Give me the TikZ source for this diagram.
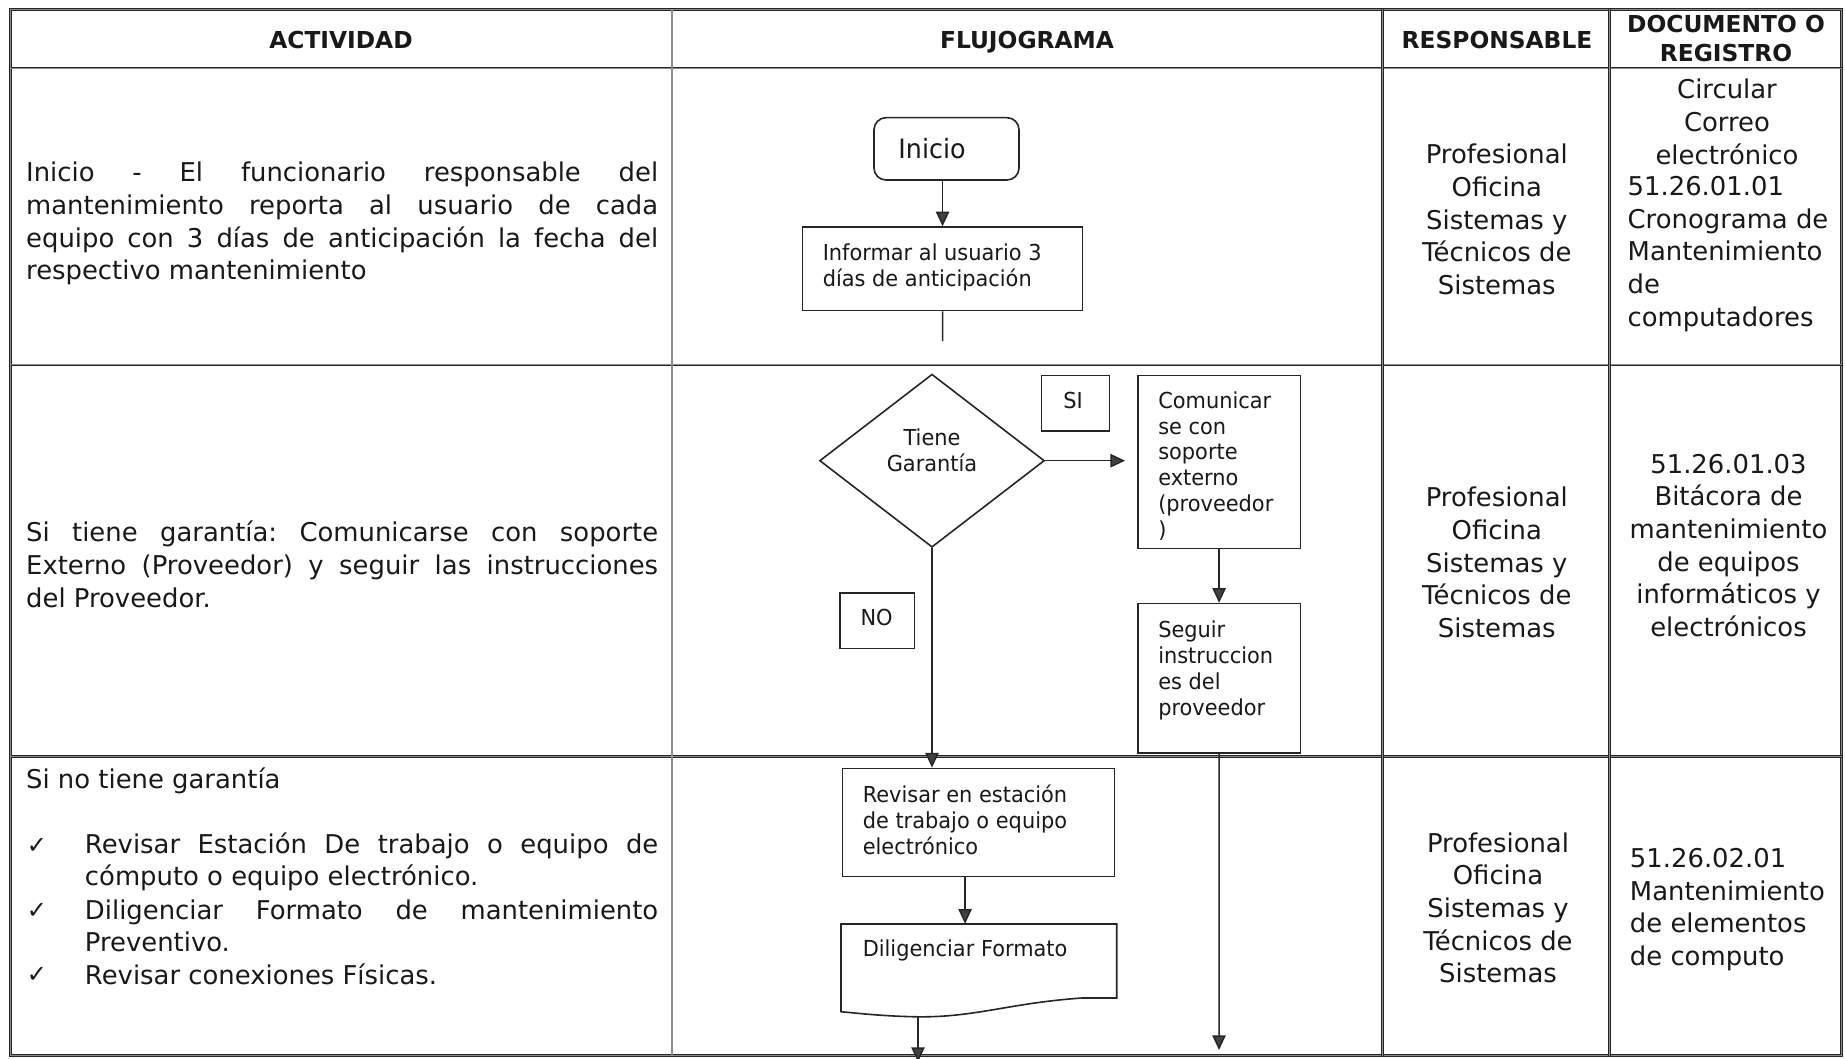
\documentclass[tikz,border=0pt]{standalone}
\usepackage{fontspec}
\setmainfont{DejaVu Sans}
\newfontfamily\flowfont[FakeStretch=0.95]{DejaVu Sans}
\usetikzlibrary{shapes.geometric,arrows.meta,fit,calc}
\frenchspacing
\begin{document}
\begin{tikzpicture}[x=0.75pt,y=-0.75pt,
  tbl/.style={draw=black!85, double=black!45, double distance=0.9pt, line width=0.5pt},
  box/.style={draw=black!85, line width=1.2pt, inner sep=0pt},
  flow/.style={draw=black!85, line width=1.1pt, -{Triangle[length=11pt,width=10pt,fill=black!75]}},
  plain/.style={draw=black!85, line width=1.1pt},
  body/.style={font=\fontsize{19.4}{24.5}\selectfont, inner sep=0pt, text=black!90},
  ftext/.style={font=\flowfont\fontsize{16.5}{19.4}\selectfont, inner sep=0pt, align=left, text=black!90},
  head/.style={font=\bfseries\fontsize{17.5}{22}\selectfont, inner sep=0pt, align=center, text=black!90},
  chk/.style={font=\fontsize{18}{20}\selectfont, inner sep=0pt, text=black!90}
]
\useasboundingbox[fill=white] (0,0) rectangle (1845,1059);

% ---------------- table ----------------
\draw[tbl] (10.6,9.4) rectangle (1841.5,1055.5);
\draw[tbl] (10.6,68.2) -- (1841.5,68.2);
\draw[tbl] (10.6,364.8) -- (1841.5,364.8);
\draw[tbl] (10.6,756.6) -- (1841.5,756.6);
\draw[tbl] (672,9.4) -- (672,1055.5);
\draw[tbl] (1382.6,9.4) -- (1382.6,1055.5);
\draw[tbl] (1609.7,9.4) -- (1609.7,1055.5);

% ---------------- header ----------------
\node[head, anchor=base] (hact) at (341,48.5) {ACTIVIDAD};
\node[head, anchor=base] (hflu) at (1027,48.5) {FLUJOGRAMA};
\node[head, anchor=base] (hres) at (1497,48.5) {RESPONSABLE};
\node[head] (hdoc) at (1726,38.3) {DOCUMENTO O\\REGISTRO};

% ---------------- actividad ----------------
\node[body, anchor=west, text width=474pt, align=justify] (act1) at (25.9,223.8)
 {Inicio - El funcionario responsable del\linebreak mantenimiento reporta al usuario de cada\linebreak equipo con 3 días de anticipación la fecha del\linebreak respectivo mantenimiento};
\node[body, anchor=west, text width=474pt, align=justify] (act2) at (25.9,564.3)
 {Si tiene garantía: Comunicarse con soporte\linebreak Externo (Proveedor) y seguir las instrucciones\linebreak del Proveedor.};
\node[body, anchor=west] (act3) at (25.9,781) {Si no tiene garantía};
\node[chk] (c1) at (37,846) {✓};
\node[chk] (c2) at (37,910.6) {✓};
\node[chk] (c3) at (37,975.3) {✓};
\node[body, anchor=west, text width=430pt, align=justify] (b1) at (84.7,862)
 {Revisar Estación De trabajo o equipo de\linebreak cómputo o equipo electrónico.};
\node[body, anchor=west, text width=430pt, align=justify] (b2) at (84.7,926)
 {Diligenciar Formato de mantenimiento\linebreak Preventivo.};
\node[body, anchor=west] (b3) at (84.7,974.3) {Revisar conexiones Físicas.};

% ---------------- responsable ----------------
\node[body, align=center] (res1) at (1496.8,219.5) {Profesional\\Oficina\\Sistemas y\\Técnicos de\\Sistemas};
\node[body, align=center] (res2) at (1496.8,562.5) {Profesional\\Oficina\\Sistemas y\\Técnicos de\\Sistemas};
\node[body, align=center] (res3) at (1498,907.8) {Profesional\\Oficina\\Sistemas y\\Técnicos de\\Sistemas};

% ---------------- documento ----------------
\node[body, align=center] (docA1) at (1727,122) {Circular\\Correo\\electrónico};
\node[body, anchor=west, align=left] (docA2) at (1627.4,253.8) {51.26.01.01\\Cronograma de\\Mantenimiento\\de\\computadores};
\node[body, align=center] (docB) at (1728.5,545.4) {51.26.01.03\\Bitácora de\\mantenimiento\\de equipos\\informáticos y\\electrónicos};
\node[body, anchor=west, align=left] (docC) at (1629.7,909.5) {51.26.02.01\\Mantenimiento\\de elementos\\de computo};

% ---------------- flujograma ----------------
\node[box, rounded corners=9pt, fit={(874,117.7) (1019,180)}] (inicio) {};
\node[ftext, font=\flowfont\fontsize{20}{24}\selectfont] (tinicio) at (932,149) {Inicio};

\node[box, fit={(802.5,227.1) (1082.6,310.6)}] (informar) {};
\node[ftext, anchor=west] (tinformar) at (822.5,267) {Informar al usuario 3\\días de anticipación};
\coordinate (endA) at (942.6,341);

\node[box, diamond, minimum width=168.6pt, minimum height=129.8pt] (diam) at (932,460.7) {};
\node[ftext, align=center] (tdiam) at (932,450) {Tiene\\Garantía};

\node[box, fit={(1041.4,375.4) (1109.6,430.7)}] (si) {};
\node[ftext] (tsi) at (1073,400.5) {SI};

\node[box, fit={(1137.9,375.4) (1300.3,548.3)}] (comunicar) {};
\node[ftext, anchor=west] (tcomunicar) at (1158,466) {Comunicar\\se con\\soporte\\externo\\(proveedor\\)};

\node[box, fit={(1137.9,603.6) (1300.3,753)}] (seguir) {};
\node[ftext, anchor=west] (tseguir) at (1158,670.5) {Seguir\\instruccion\\es del\\proveedor};

\node[box, fit={(840,593) (914.3,648.4)}] (no) {};
\node[ftext] (tno) at (876.6,617.5) {NO};

\node[box, fit={(842.5,768.4) (1114.3,876.6)}] (revisar) {};
\node[ftext, anchor=west] (trevisar) at (862.5,820) {Revisar en estación\\de trabajo o equipo\\electrónico};

\draw[box] (841,924) -- (1116.7,924) -- (1116.7,998) -- (1082,998)
  .. controls (1010,1003) and (975,1017.5) .. (918,1016.8)
  .. controls (885,1016.3) and (860,1013.5) .. (841,1011.7) -- cycle;
\node[fit={(841,924) (1116.7,1011.7)}, inner sep=0pt] (dilig) {};
\node[ftext, anchor=west] (tdilig) at (862.5,950.5) {Diligenciar Formato};
\coordinate (dilbot) at (918,1016.8);
\coordinate (endC) at (918,1062);
\coordinate (endB) at (1219,1050);

% connectors
\draw[flow] (inicio.south -| informar.north) -- (informar.north);
\draw[plain] (informar.south) -- (endA);
\draw[flow, shorten >=9pt] (diam.east) -- (diam.east -| comunicar.west);
\draw[flow] (comunicar.south) -- (seguir.north);
\draw[flow] (diam.south) -- (diam.south |- revisar.north);
\draw[flow] (seguir.south) -- (endB);
\draw[flow] ([xshift=-10pt]revisar.south) -- ([xshift=-10pt]revisar.south |- dilig.north);
\draw[flow] (dilbot) -- (endC);
\end{tikzpicture}
\end{document}
